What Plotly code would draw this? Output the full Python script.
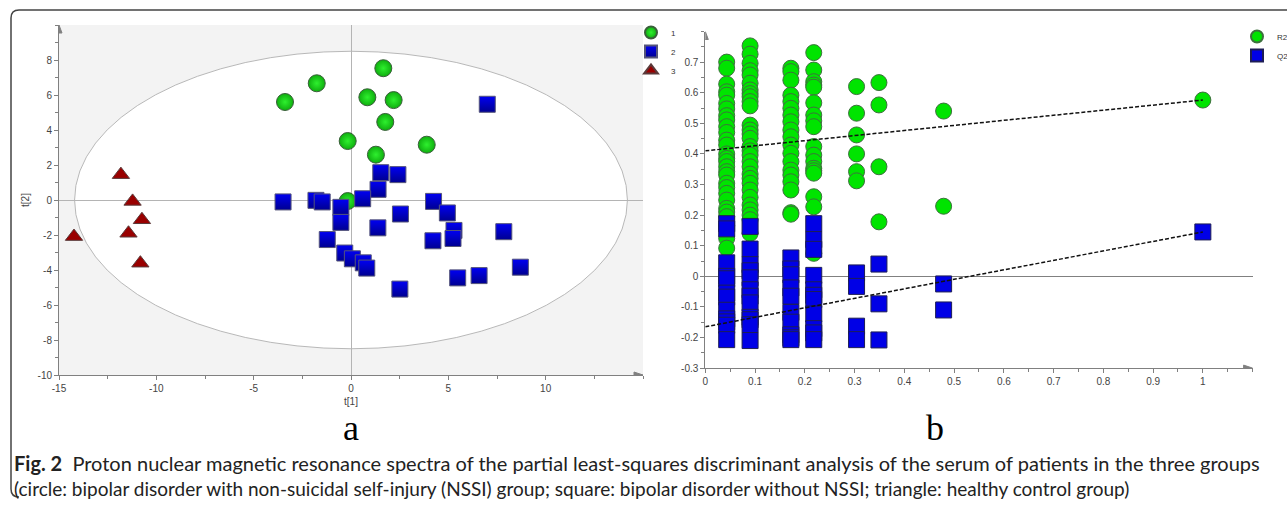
import plotly.graph_objects as go

W, H = 1287, 505

# ---------------- Panel a: PLS-DA score plot ----------------
g1_t1 = [-1.76, -3.39, 0.84, 2.19, 1.76, -0.17, 3.89, 1.28, -0.17, 1.66]
g1_t2 = [6.67, 5.60, 5.87, 5.71, 4.46, 3.37, 3.16, 2.59, -0.06, 7.53]

g2_t1 = [7.00, 1.53, 2.41, 1.39, 0.60, -3.49, -1.80, -1.48, -0.52, -0.52, 2.54, 4.24, 4.95,
         5.29, 5.24, 7.85, 1.38, 4.21, -1.22, -0.32, 0.07, 0.63, 0.81, 8.70, 6.58, 5.48, 2.51]
g2_t2 = [5.47, 1.56, 1.45, 0.61, 0.07, -0.11, -0.02, -0.11, -0.42, -1.28, -0.80, -0.08, -0.74,
         -1.74, -2.20, -1.81, -1.59, -2.33, -2.26, -3.03, -3.36, -3.59, -3.89, -3.84, -4.32, -4.45, -5.09]

g3_t1 = [-11.82, -11.22, -10.74, -11.43, -14.23, -10.82]
g3_t2 = [1.45, -0.08, -1.13, -1.90, -2.09, -3.61]

ellipse_t1 = 14.2
ellipse_t2 = 8.5

a_xticks = [-15, -10, -5, 0, 5, 10]
a_yticks = [-10, -8, -6, -4, -2, 0, 2, 4, 6, 8]

# ---------------- Panel b: permutation test ----------------
perm_x = [0.043, 0.090, 0.172, 0.218, 0.304, 0.349, 0.479]
r2_cols = [
    [0.700, 0.680, 0.628, 0.603, 0.592, 0.565, 0.547, 0.525, 0.511, 0.489, 0.470, 0.445, 0.429,
     0.400, 0.385, 0.375, 0.358, 0.342, 0.331, 0.304, 0.290, 0.271, 0.249, 0.222, 0.210, 0.195,
     0.165, 0.124, 0.092],
    [0.753, 0.726, 0.696, 0.672, 0.658, 0.631, 0.609, 0.597, 0.587, 0.571, 0.557, 0.494, 0.478,
     0.465, 0.451, 0.424, 0.410, 0.396, 0.375, 0.358, 0.334, 0.320, 0.304, 0.282, 0.258, 0.233,
     0.217, 0.200, 0.185, 0.140],
    [0.680, 0.669, 0.641, 0.592, 0.571, 0.549, 0.527, 0.505, 0.478, 0.456, 0.429, 0.402, 0.375,
     0.347, 0.331, 0.309, 0.282, 0.208, 0.203],
    [0.731, 0.674, 0.636, 0.625, 0.618, 0.567, 0.527, 0.508, 0.489, 0.424, 0.396, 0.375, 0.353,
     0.345, 0.337, 0.260, 0.227, 0.075],
    [0.620, 0.533, 0.462, 0.400, 0.342, 0.312],
    [0.633, 0.560, 0.358, 0.178],
    [0.540, 0.229],
]
q2_cols = [
    [0.172, 0.155, 0.044, 0.000, -0.008, -0.055, -0.068, -0.111, -0.139, -0.149, -0.160, -0.207],
    [0.163, 0.089, 0.038, 0.018, -0.005, -0.044, -0.065, -0.087, -0.134, -0.142, -0.158, -0.210],
    [0.060, 0.024, 0.005, -0.038, -0.065, -0.118, -0.150, -0.191, -0.201, -0.207],
    [0.172, 0.120, 0.088, 0.003, -0.044, -0.062, -0.076, -0.123, -0.171, -0.185, -0.207],
    [0.011, -0.033, -0.163, -0.207],
    [0.040, -0.090, -0.208],
    [-0.025, -0.110],
]
model_x = 1.0
model_r2 = 0.576
model_q2 = 0.145
r2_intercept = 0.41
q2_intercept = -0.165

b_xticks = [0, 0.1, 0.2, 0.3, 0.4, 0.5, 0.6, 0.7, 0.8, 0.9, 1]
b_yticks = [-0.3, -0.2, -0.1, 0, 0.1, 0.2, 0.3, 0.4, 0.5, 0.6, 0.7]

# build permutation series
r2_x, r2_y, q2_x, q2_y = [], [], [], []
for xv, rs, qs in zip(perm_x, r2_cols, q2_cols):
    r2_x += [xv] * len(rs)
    r2_y += rs
    q2_x += [xv] * len(qs)
    q2_y += qs
r2_x.append(model_x); r2_y.append(model_r2)
q2_x.append(model_x); q2_y.append(model_q2)


def px(x):
    return x / W


def py(y):
    return 1 - y / H


fig = go.Figure()

# Panel a traces
fig.add_trace(go.Scatter(
    x=g1_t1, y=g1_t2, mode="markers", name="1", legend="legend",
    marker=dict(symbol="circle", size=17, color="#0fae0f",
                gradient=dict(type="radial", color="#2ef02e"),
                line=dict(color="#3a5f3a", width=1)),
    xaxis="x", yaxis="y"))
fig.add_trace(go.Scatter(
    x=g2_t1, y=g2_t2, mode="markers", name="2", legend="legend",
    marker=dict(symbol="square", size=16, color="#0000f2",
                gradient=dict(type="vertical", color="#000090"),
                line=dict(color="#55557a", width=1)),
    xaxis="x", yaxis="y"))
fig.add_trace(go.Scatter(
    x=g3_t1, y=g3_t2, mode="markers", name="3", legend="legend",
    marker=dict(symbol="triangle-up", size=15, color="#990000",
                line=dict(color="#5a3a3a", width=1)),
    xaxis="x", yaxis="y"))

# Panel b traces
fig.add_trace(go.Scatter(
    x=r2_x, y=r2_y, mode="markers", name="R2", legend="legend2",
    marker=dict(symbol="circle", size=16, color="#00e400",
                line=dict(color="#3d703d", width=1)),
    xaxis="x2", yaxis="y2"))
fig.add_trace(go.Scatter(
    x=q2_x, y=q2_y, mode="markers", name="Q2", legend="legend2",
    marker=dict(symbol="square", size=16, color="#0000e6",
                line=dict(color="#1e1e55", width=1)),
    xaxis="x2", yaxis="y2"))
fig.add_trace(go.Scatter(
    x=[0, model_x], y=[r2_intercept, model_r2], mode="lines", showlegend=False,
    line=dict(color="#111111", width=1.5, dash="4px,2px"), xaxis="x2", yaxis="y2"))
fig.add_trace(go.Scatter(
    x=[0, model_x], y=[q2_intercept, model_q2], mode="lines", showlegend=False,
    line=dict(color="#111111", width=1.5, dash="4px,2px"), xaxis="x2", yaxis="y2"))

tickfont = dict(family="Liberation Sans", size=10, color="#444444")
axcol = "#808080"

common = dict(showline=True, linecolor=axcol, linewidth=1, ticks="outside", ticklen=4,
              tickcolor=axcol, tickwidth=1, showgrid=False, tickfont=tickfont,
              tickmode="array", fixedrange=True, automargin=False)

fig.update_layout(
    width=W, height=H, margin=dict(l=0, r=0, t=0, b=0, autoexpand=False),
    paper_bgcolor="white", plot_bgcolor="white",
    font=dict(family="Liberation Sans", color="#333333"),
    xaxis=dict(domain=[px(59), px(643)], range=[-15, 15], anchor="y",
               tickvals=a_xticks, ticktext=[str(v) for v in a_xticks],
               zeroline=True, zerolinecolor="#b4b4b4", zerolinewidth=1,
               minor=dict(dtick=2.5, tick0=0, ticks="outside", ticklen=3, tickcolor=axcol),
               title=dict(text="t[1]", font=dict(size=10, color="#444444"), standoff=4),
               **common),
    yaxis=dict(domain=[py(375), py(25)], range=[-10, 10], anchor="x",
               tickvals=a_yticks, ticktext=[str(v) for v in a_yticks],
               zeroline=True, zerolinecolor="#b4b4b4", zerolinewidth=1,
               minor=dict(dtick=1, tick0=0, ticks="outside", ticklen=3, tickcolor=axcol),
               title=dict(text="t[2]", font=dict(size=10, color="#444444"), standoff=6),
               **common),
    xaxis2=dict(domain=[px(705.3), px(1252.6)], range=[0, 1.1], anchor="y2",
                tickvals=b_xticks, ticktext=[f"{v:g}" for v in b_xticks],
                zeroline=False,
                minor=dict(dtick=0.05, tick0=0, ticks="outside", ticklen=3, tickcolor=axcol),
                **common),
    yaxis2=dict(domain=[py(368.1), py(31.5)], range=[-0.3, 0.8], anchor="x2",
                tickvals=b_yticks, ticktext=[f"{v:g}" for v in b_yticks],
                zeroline=True, zerolinecolor="#808080", zerolinewidth=1,
                minor=dict(dtick=0.05, tick0=0, ticks="outside", ticklen=3, tickcolor=axcol),
                **common),
    legend=dict(x=px(631), y=py(18), xanchor="left", yanchor="top",
                font=dict(size=8, color="#333333"), itemsizing="constant",
                itemwidth=30, bgcolor="rgba(0,0,0,0)", tracegroupgap=0),
    legend2=dict(x=px(1237), y=py(22), xanchor="left", yanchor="top",
                 font=dict(size=8, color="#333333"), itemsizing="constant",
                 itemwidth=30, bgcolor="rgba(0,0,0,0)", tracegroupgap=0),
)

shapes = [
    # grey panel background for a
    dict(type="rect", xref="x domain", yref="y domain", x0=0, x1=1, y0=0, y1=1,
         fillcolor="#f3f3f3", line=dict(width=0), layer="below"),
    # Hotelling ellipse
    dict(type="circle", xref="x", yref="y", x0=-ellipse_t1, x1=ellipse_t1,
         y0=-ellipse_t2, y1=ellipse_t2, fillcolor="white",
         line=dict(color="#b8b8b8", width=1), layer="below"),
    # frame border
    dict(type="path", xref="paper", yref="paper",
         path=(f"M 1.0,{py(10)} L {px(19)},{py(10)} Q {px(11)},{py(10)} {px(11)},{py(18)} "
               f"L {px(11)},{py(489)} Q {px(11)},{py(497)} {px(19)},{py(497)}"),
         line=dict(color="#444444", width=1.5)),
]
# axis arrowheads (pixel-sized)
for xr, yr, xa, ya, horiz in [("x", "y", 15, -10, True), ("x", "y", -15, 10, False),
                              ("x2", "y2", 1.1, -0.3, True), ("x2", "y2", 0, 0.8, False)]:
    p = "M -9,3 L 0,0 L -9,-3 Z" if horiz else "M -3,-8 L 0,0 L 3,-8 Z"
    shapes.append(dict(type="path", xref=xr, yref=yr, xsizemode="pixel", ysizemode="pixel",
                       xanchor=xa, yanchor=ya, path=p, fillcolor=axcol,
                       line=dict(color=axcol, width=1)))
fig.update_layout(shapes=shapes)

annotations = [
    dict(text="a", x=px(351), y=py(428), xref="paper", yref="paper", showarrow=False,
         xanchor="center", yanchor="middle",
         font=dict(family="Liberation Serif", size=36, color="black")),
    dict(text="b", x=px(935), y=py(428), xref="paper", yref="paper", showarrow=False,
         xanchor="center", yanchor="middle",
         font=dict(family="Liberation Serif", size=36, color="black")),
    dict(text="<b>Fig. 2</b>\u00a0\u00a0Proton nuclear magnetic resonance spectra of the partial "
              "least-squares discriminant analysis of the serum of patients in the three groups",
         x=px(12), y=py(463), xref="paper", yref="paper", xanchor="left", yanchor="middle",
         showarrow=False, font=dict(family="Lato", size=20, color="#222222")),
    dict(text="(circle: bipolar disorder with non-suicidal self-injury (NSSI) group; square: "
              "bipolar disorder without NSSI; triangle: healthy control group)",
         x=px(12), y=py(488), xref="paper", yref="paper", xanchor="left", yanchor="middle",
         showarrow=False, font=dict(family="Lato", size=19, color="#222222")),
]
fig.update_layout(annotations=annotations)

fig.write_html("out.html")
